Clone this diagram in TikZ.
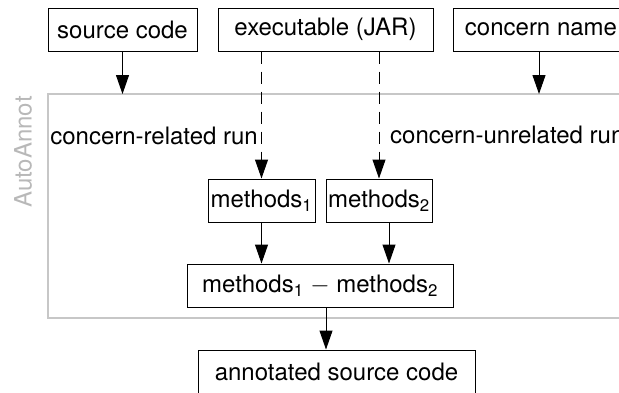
\documentclass[tikz,border=0pt]{standalone}
\usepackage{fontspec}
\setmainfont{TeX Gyre Heros}
\usetikzlibrary{arrows.meta,calc}
\begin{document}
\begin{tikzpicture}[x=1pt,y=-1pt,
  every node/.style={font=\fontsize{24pt}{28pt}\selectfont},
  box/.style={draw=black,line width=1pt,minimum height=43pt,inner sep=0pt,align=center},
  arr/.style={line width=1pt,-{Triangle[length=19pt,width=13pt]}},
  darr/.style={arr,dash pattern=on 12pt off 8pt},
  frameline/.style={draw=black!22,line width=1.2pt},
  sidelabel/.style={text=black!28}
]
\useasboundingbox (0,0) rectangle (619,392);

% frame of the tool
\coordinate (frameTL) at (48,94);
\coordinate (frameBR) at (628,318);
\draw[frameline] (frameTL) rectangle (frameBR);
\node[sidelabel,rotate=90] (tool) at (23,152) {AutoAnnot};

% inputs
\node[box,minimum width=149pt] (src) at (122.5,29.5) {source code};
\node[box,minimum width=215pt] (exe) at (325.5,29.5) {executable (JAR)};
\node[box,minimum width=176pt] (cn) at (541,29.5) {concern name};

% the two runs
\node[box,minimum width=107pt] (m1) at (261.5,200.5) {methods\textsubscript{1}};
\node[box,minimum width=106pt] (m2) at (379,200.5) {methods\textsubscript{2}};
\node[box,minimum width=266pt] (diff) at (320,285.5) {methods\textsubscript{1} $-$ methods\textsubscript{2}};
\node[box,minimum width=277pt] (ann) at (336.5,371.5) {annotated source code};

\node[anchor=base east,inner sep=0pt] (rel) at (258,144) {concern-related run};
\node[anchor=base west,inner sep=0pt] (unrel) at (390,143) {concern-unrelated run};

% connectors
\draw[arr] (src.south) -- (src.south |- frameTL);
\draw[arr] ([xshift=-2pt]cn.south) -- ([xshift=-2pt]cn.south |- frameTL);
\draw[darr] (exe.south -| m1.north) -- (m1.north);
\draw[darr] (exe.south -| m2.north) -- (m2.north);
\draw[arr] (m1.south) -- (m1.south |- diff.north);
\draw[arr] ([xshift=10pt]m2.south) -- ([xshift=10pt]m2.south |- diff.north);
\draw[arr] ([xshift=6pt]diff.south) -- ([xshift=6pt]diff.south |- ann.north);
\end{tikzpicture}
\end{document}
